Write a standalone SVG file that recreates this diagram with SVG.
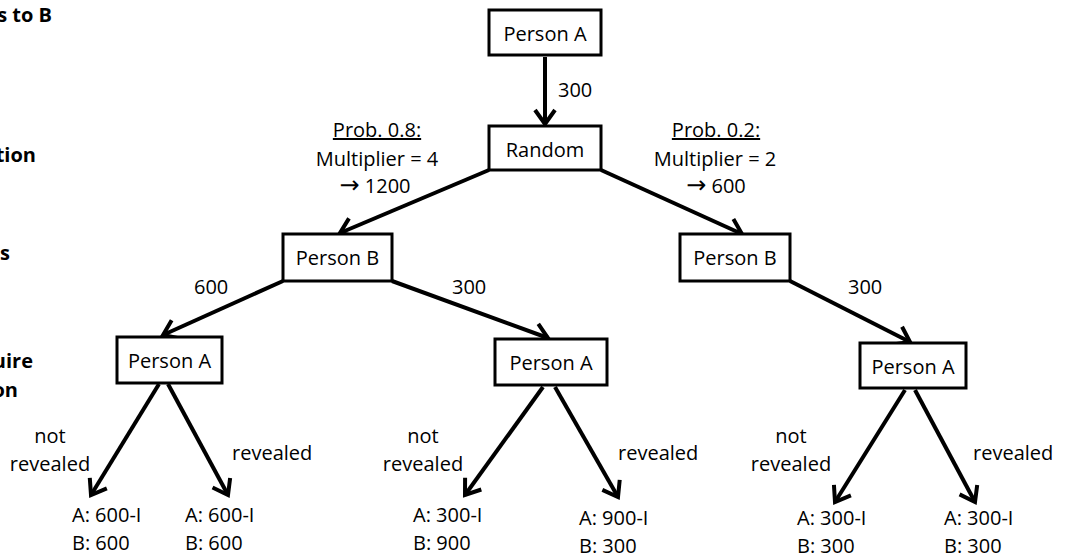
<svg xmlns="http://www.w3.org/2000/svg" width="1066" height="558" viewBox="0 0 1066 558">
<defs>
<style>
.box{fill:#fff;stroke:#000;stroke-width:3}
.t{font-family:"Open Sans","Noto Sans",sans-serif;font-size:20px;fill:#000}
.c{text-anchor:middle}
.b{font-weight:bold;text-anchor:end}
.e{stroke:#000;stroke-width:4;fill:none}
.ar{font-family:"DejaVu Sans",sans-serif;font-size:24px}
</style>
<marker id="ah" markerUnits="userSpaceOnUse" markerWidth="26" markerHeight="26" viewBox="0 0 26 26" refX="18" refY="13" orient="auto">
<path d="M4,3 L18,13 L4,23" fill="none" stroke="#000" stroke-width="4"/>
</marker>
</defs>
<rect width="1066" height="558" fill="#fff"/>
<g id="side-labels">
<text class="t b" x="52" y="22">s to B</text>
<text class="t b" x="36" y="162">tion</text>
<text class="t b" x="10" y="260">s</text>
<text class="t b" x="33" y="368">uire</text>
<text class="t b" x="18" y="397">on</text>
</g>
<g id="connectors">
<line class="e" x1="545" y1="57" x2="545" y2="124" marker-end="url(#ah)"/>
<line class="e" x1="489" y1="170" x2="340" y2="233" marker-end="url(#ah)"/>
<line class="e" x1="601" y1="170" x2="742" y2="234" marker-end="url(#ah)"/>
<line class="e" x1="283" y1="281" x2="163" y2="335" marker-end="url(#ah)"/>
<line class="e" x1="392" y1="281" x2="548" y2="338" marker-end="url(#ah)"/>
<line class="e" x1="790" y1="281" x2="910" y2="342" marker-end="url(#ah)"/>
<line class="e" x1="159" y1="384" x2="91" y2="495" marker-end="url(#ah)"/>
<line class="e" x1="168" y1="384" x2="228" y2="495" marker-end="url(#ah)"/>
<line class="e" x1="543" y1="387" x2="465" y2="495" marker-end="url(#ah)"/>
<line class="e" x1="555" y1="387" x2="618" y2="497" marker-end="url(#ah)"/>
<line class="e" x1="905" y1="390" x2="835" y2="502" marker-end="url(#ah)"/>
<line class="e" x1="915" y1="390" x2="975" y2="502" marker-end="url(#ah)"/>
</g>
<g id="edge-labels">
<text class="t" x="558" y="97">300</text>
<text class="t c" x="377" y="137" text-decoration="underline">Prob. 0.8:</text>
<text class="t c" x="377" y="166">Multiplier = 4</text>
<text class="t c" x="375" y="193"><tspan class="ar">→</tspan> 1200</text>
<text class="t c" x="716" y="137" text-decoration="underline">Prob. 0.2:</text>
<text class="t c" x="715" y="166">Multiplier = 2</text>
<text class="t c" x="716" y="193"><tspan class="ar">→</tspan> 600</text>
<text class="t" x="194" y="294">600</text>
<text class="t" x="452" y="294">300</text>
<text class="t" x="848" y="294">300</text>
<text class="t c" x="50" y="443">not</text>
<text class="t c" x="50" y="471">revealed</text>
<text class="t" x="232" y="460">revealed</text>
<text class="t c" x="423" y="443">not</text>
<text class="t c" x="423" y="471">revealed</text>
<text class="t" x="618" y="460">revealed</text>
<text class="t c" x="791" y="443">not</text>
<text class="t c" x="791" y="471">revealed</text>
<text class="t" x="973" y="460">revealed</text>
</g>
<g id="n-top"><rect class="box" x="489" y="10" width="112" height="45"/><text class="t c" x="545" y="41">Person A</text></g>
<g id="n-random"><rect class="box" x="489" y="126" width="112" height="44"/><text class="t c" x="545" y="157">Random</text></g>
<g id="n-b-left"><rect class="box" x="283" y="234" width="109" height="47"/><text class="t c" x="337.5" y="265">Person B</text></g>
<g id="n-b-right"><rect class="box" x="680" y="234" width="110" height="47"/><text class="t c" x="735" y="265">Person B</text></g>
<g id="n-a-left"><rect class="box" x="117" y="337" width="105" height="46"/><text class="t c" x="169.5" y="368">Person A</text></g>
<g id="n-a-mid"><rect class="box" x="495" y="339" width="112" height="46"/><text class="t c" x="551" y="370">Person A</text></g>
<g id="n-a-right"><rect class="box" x="860" y="343" width="106" height="45"/><text class="t c" x="913" y="374">Person A</text></g>
<g id="leaf-1"><text class="t" x="72" y="522">A: 600-I</text><text class="t" x="72" y="550">B: 600</text></g>
<g id="leaf-2"><text class="t" x="185" y="522">A: 600-I</text><text class="t" x="185" y="550">B: 600</text></g>
<g id="leaf-3"><text class="t" x="413" y="522">A: 300-I</text><text class="t" x="413" y="550">B: 900</text></g>
<g id="leaf-4"><text class="t" x="579" y="525">A: 900-I</text><text class="t" x="579" y="553">B: 300</text></g>
<g id="leaf-5"><text class="t" x="797" y="525">A: 300-I</text><text class="t" x="797" y="553">B: 300</text></g>
<g id="leaf-6"><text class="t" x="944" y="525">A: 300-I</text><text class="t" x="944" y="553">B: 300</text></g>
</svg>
